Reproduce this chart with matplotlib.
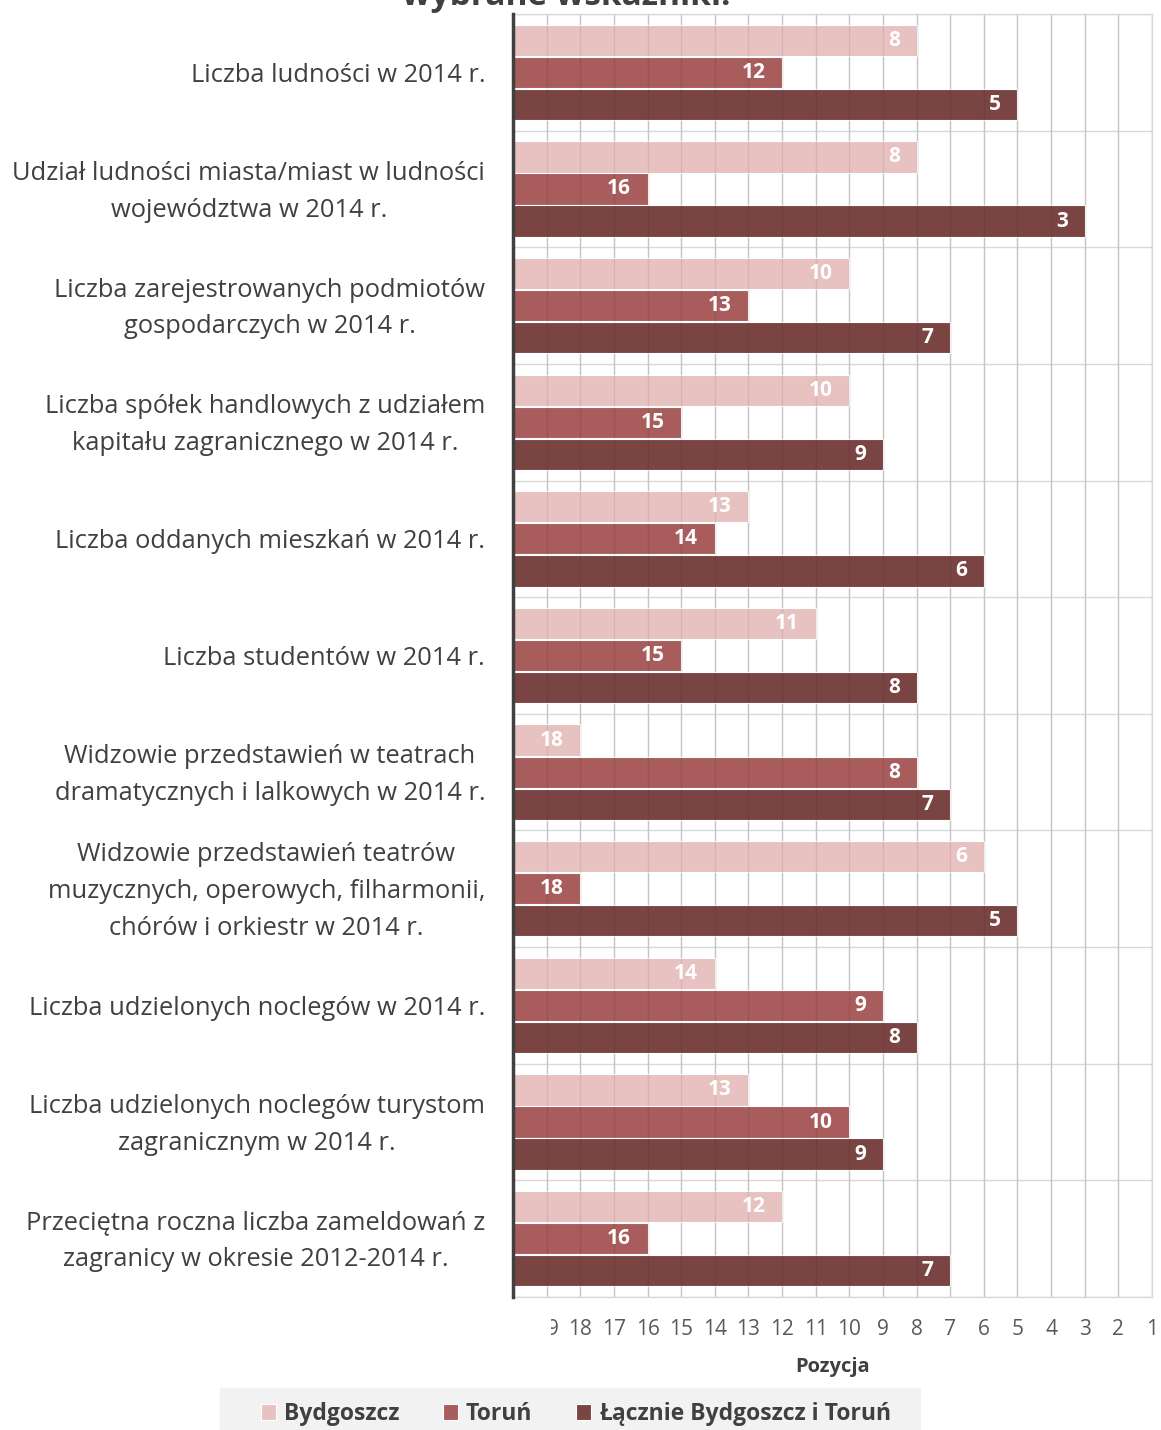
import numpy as np
import matplotlib.pyplot as plt
from matplotlib.patches import Rectangle
from matplotlib.transforms import Bbox, ScaledTranslation

categories = [
    "Liczba ludności w 2014 r.",
    "Udział ludności miasta/miast w ludności\nwojewództwa w 2014 r.",
    "Liczba zarejestrowanych podmiotów\ngospodarczych w 2014 r.",
    "Liczba spółek handlowych z udziałem\nkapitału zagranicznego w 2014 r.",
    "Liczba oddanych mieszkań w 2014 r.",
    "Liczba studentów w 2014 r.",
    "Widzowie przedstawień w teatrach\ndramatycznych i lalkowych w 2014 r.",
    "Widzowie przedstawień teatrów\nmuzycznych, operowych, filharmonii,\nchórów i orkiestr w 2014 r.",
    "Liczba udzielonych noclegów w 2014 r.",
    "Liczba udzielonych noclegów turystom\nzagranicznym w 2014 r.",
    "Przeciętna roczna liczba zameldowań z\nzagranicy w okresie 2012-2014 r.",
]
bydgoszcz = [8, 8, 10, 10, 13, 11, 18, 6, 14, 13, 12]
torun = [12, 16, 13, 15, 14, 15, 8, 18, 9, 10, 16]
lacznie = [5, 3, 7, 9, 6, 8, 7, 5, 8, 9, 7]
series_names = ["Bydgoszcz", "Toruń", "Łącznie Bydgoszcz i Toruń"]
colors = ["#E8C1C1", "#A85C5C", "#7A4443"]

plt.rcParams['font.family'] = ['Open Sans', 'DejaVu Sans']
text_color = "#404040"
grid_color = "#D9D9D9"
base = 20

fig = plt.figure(figsize=(11.61, 14.30), dpi=100)
ax = fig.add_axes([513 / 1161, 1 - 1297 / 1430, (1152 - 513) / 1161, (1297 - 14) / 1430])

n = len(categories)
y = np.arange(n)
h = 0.268
offsets = [-0.275, 0, 0.275]

for vals, off, col, name in zip([bydgoszcz, torun, lacznie], offsets, colors, series_names):
    vals = np.array(vals)
    ax.barh(y + off, vals - base, left=base, height=h, color=col,
            edgecolor="white", linewidth=0.8, label=name, zorder=2)
    for yy, v in zip(y + off, vals):
        ax.annotate(str(v), (v, yy), xytext=(-12, 0), textcoords="offset points",
                    ha="right", va="center", color="white", fontweight="bold",
                    fontsize=15, zorder=4)

ax.set_xlim(base, 1)
ax.set_ylim(n - 0.5, -0.5)

ax.set_xticks(np.arange(1, 20))
ax.set_xticklabels([str(i) for i in range(1, 20)], fontsize=15, color="#595959")
ax.tick_params(axis="x", length=0, pad=16)
ax.set_yticks(y)
ax.set_yticklabels(categories, fontsize=18.4, color=text_color, linespacing=1.62)
ax.set_yticks(np.arange(-0.5, n, 1), minor=True)
ax.tick_params(axis="y", which="both", length=0, pad=20)
# wrapped labels: centre lines and pull the block up onto the group centre
lift = ScaledTranslation(0, 6 / 100, fig.dpi_scale_trans)
for lab in ax.get_yticklabels():
    lab.set_multialignment("center")
    if "\n" in lab.get_text():
        lab.set_transform(lab.get_transform() + lift)

# vertical grid under the bars, plus a faint copy showing through them
ax.grid(True, axis="x", which="major", color="#D3D3D3", linewidth=1, zorder=0)
ax.grid(True, axis="y", which="minor", color=grid_color, linewidth=1, zorder=0)
ax.grid(False, axis="y", which="major")
ax.set_axisbelow(True)
ax.vlines(np.arange(1, 20), -0.5, n - 0.5, color="black", alpha=0.07, linewidth=1, zorder=3)

for side in ["top", "right", "bottom"]:
    ax.spines[side].set_color(grid_color)
    ax.spines[side].set_linewidth(1)
ax.spines["left"].set_color(text_color)
ax.spines["left"].set_linewidth(2.5)
ax.spines["left"].set_zorder(5)

# label "19" sits partly under the axis edge
fig.canvas.draw()
for lab in ax.get_xticklabels():
    if lab.get_text() == "19":
        lab.set_clip_box(Bbox.from_extents(551, 0, 1161, 1430))
        lab.set_clip_on(True)

ax.set_xlabel("Pozycja", fontsize=14.5, fontweight="bold", color=text_color, labelpad=12)

fig.text(0.488, 1 - 5 / 1430, "wybrane wskaźniki.", ha="center", va="baseline",
         fontsize=24, fontweight="bold", color=text_color)

fig.patches.append(Rectangle((220 / 1161, 0), 700 / 1161, 42 / 1430,
                             transform=fig.transFigure, color="#F2F2F2", zorder=0))
handles, labels = ax.get_legend_handles_labels()
fig.legend(handles, labels, loc="center", bbox_to_anchor=(576 / 1161, 16 / 1430),
           ncol=3, frameon=False, handlelength=0.65, handleheight=0.65,
           columnspacing=1.9, handletextpad=0.35, prop={"weight": "bold", "size": 16.5},
           labelcolor=text_color)

fig.savefig("out.png", dpi=100)
